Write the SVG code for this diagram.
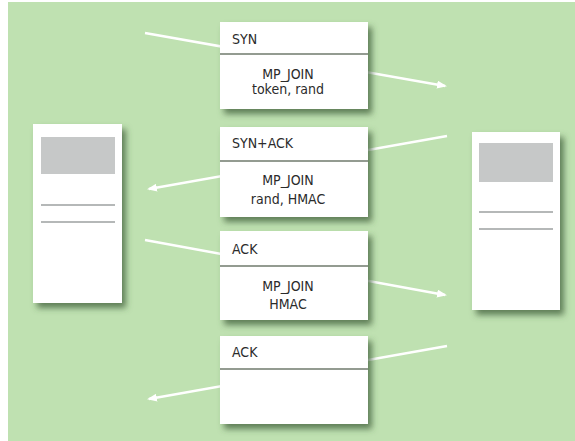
<svg xmlns="http://www.w3.org/2000/svg" width="575" height="441" viewBox="0 0 575 441">
<defs>
<style>
.bg{fill:#bfe1b1}
.card{fill:#ffffff}
.div{stroke:#6f7a6c;stroke-width:1.5}
.scr{fill:#c6c8c8}
.ln{stroke:#b5b8b8;stroke-width:2}
.t{font-family:"DejaVu Sans Condensed","DejaVu Sans",sans-serif;font-size:14px;fill:#2b2b2b}
.c{text-anchor:middle}
.arr{stroke:#ffffff;stroke-width:2.5;fill:none;marker-end:url(#ah)}
</style>
<filter id="sh" x="-20%" y="-20%" width="150%" height="150%">
<feGaussianBlur in="SourceAlpha" stdDeviation="3"/>
<feOffset dx="4" dy="5" result="b"/>
<feFlood flood-color="#3f5e3a" flood-opacity="0.75"/>
<feComposite in2="b" operator="in"/>
<feMerge><feMergeNode/><feMergeNode in="SourceGraphic"/></feMerge>
</filter>
<marker id="ah" markerWidth="10" markerHeight="8" refX="8" refY="4" orient="auto" markerUnits="userSpaceOnUse">
<path d="M0,0 L10,4 L0,8 Z" fill="#ffffff"/>
</marker>
</defs>
<rect x="0" y="0" width="575" height="441" fill="#ffffff"/>
<rect class="bg" x="8" y="2" width="567" height="439"/>
<g id="connectors">
<line class="arr" x1="145" y1="33" x2="445" y2="86"/>
<line class="arr" x1="447" y1="136" x2="149" y2="189"/>
<line class="arr" x1="145" y1="240" x2="445" y2="295"/>
<line class="arr" x1="447" y1="346" x2="149" y2="399"/>
</g>
<g id="hostA">
<rect class="card" filter="url(#sh)" x="33" y="124" width="89" height="179"/>
<rect class="scr" x="41" y="137" width="74" height="37"/>
<line class="ln" x1="41" y1="205" x2="115" y2="205"/>
<line class="ln" x1="41" y1="222" x2="115" y2="222"/>
</g>
<g id="hostB">
<rect class="card" filter="url(#sh)" x="472" y="132" width="88" height="178"/>
<rect class="scr" x="479" y="143" width="74" height="39"/>
<line class="ln" x1="479" y1="212" x2="553" y2="212"/>
<line class="ln" x1="479" y1="229" x2="553" y2="229"/>
</g>
<g id="msg1">
<rect class="card" filter="url(#sh)" x="220" y="22" width="148" height="87"/>
<line class="div" x1="220" y1="54" x2="368" y2="54"/>
<text class="t" x="232" y="44">SYN</text>
<text class="t c" x="288" y="79">MP_JOIN</text>
<text class="t c" x="288" y="94">token, rand</text>
</g>
<g id="msg2">
<rect class="card" filter="url(#sh)" x="220" y="127" width="148" height="90"/>
<line class="div" x1="220" y1="161" x2="368" y2="161"/>
<text class="t" x="232" y="148">SYN+ACK</text>
<text class="t c" x="288" y="185">MP_JOIN</text>
<text class="t c" x="288" y="204">rand, HMAC</text>
</g>
<g id="msg3">
<rect class="card" filter="url(#sh)" x="220" y="231" width="148" height="89"/>
<line class="div" x1="220" y1="266" x2="368" y2="266"/>
<text class="t" x="232" y="254">ACK</text>
<text class="t c" x="288" y="291">MP_JOIN</text>
<text class="t c" x="288" y="309">HMAC</text>
</g>
<g id="msg4">
<rect class="card" filter="url(#sh)" x="220" y="336" width="148" height="88"/>
<line class="div" x1="220" y1="369" x2="368" y2="369"/>
<text class="t" x="232" y="357">ACK</text>
</g>
</svg>
